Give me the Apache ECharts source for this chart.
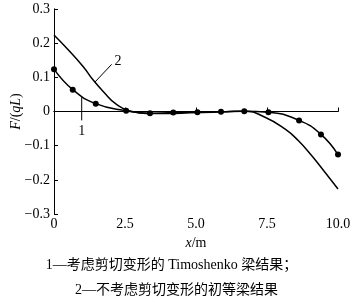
<!DOCTYPE html>
<html><head><meta charset="utf-8">
<script src="https://cdn.jsdelivr.net/npm/echarts@6/dist/echarts.min.js"></script>
<style>html,body{margin:0;padding:0;background:#fff}#c{width:359px;height:301px}</style>
</head><body><div id="c"></div>
<script>
// Curve 1: Timoshenko beam (with shear deformation), marked points
const timoX = [0, 0.66, 1.47, 2.54, 3.38, 4.2, 5.05, 5.88, 6.7, 7.55, 8.63, 9.4, 10];
const timoY = [0.124, 0.064, 0.023, 0.002, -0.005, -0.003, -0.002, -0.001, 0.001, -0.002, -0.026, -0.067, -0.126];
// Curve 2: elementary beam (no shear deformation)
const eulerX = [0, 0.45, 1.03, 1.38, 1.74, 2.2, 2.79, 3.26, 4.0, 4.8, 5.6, 6.2, 6.73, 7.43, 8.13, 8.6, 9.07, 9.54, 10];
const eulerY = [0.224, 0.185, 0.131, 0.092, 0.058, 0.021, -0.001, -0.006, -0.006, -0.004, -0.002, 0.0, 0.001, -0.017, -0.051, -0.085, -0.129, -0.178, -0.227];
const xTickValues = [0, 2.5, 5.0, 7.5, 10.0];
const yTickValues = [-0.3, -0.2, -0.1, 0, 0.1, 0.2, 0.3];
const captionLines = ['1\u2014考虑剪切变形的 Timoshenko 梁结果；', '2\u2014不考虑剪切变形的初等梁结果'];

const FONT = "'Liberation Serif','Times New Roman','Noto Sans CJK SC',serif";
const chart = echarts.init(document.getElementById('c'), null, {renderer: 'canvas'});
const zip = (xs, ys) => xs.map((x, i) => [x, ys[i]]);
const axisLine = {show: true, lineStyle: {color: '#000', width: 1}};
chart.setOption({
  animation: false,
  backgroundColor: '#fff',
  grid: {left: 54, right: 21, top: 9, bottom: 87, containLabel: false, outerBoundsMode: 'none'},
  xAxis: [{
    type: 'value', min: 0, max: 10, interval: 2.5,
    axisLine: axisLine, splitLine: {show: false},
    axisTick: {show: true, inside: true, length: 4, lineStyle: {color: '#000'}},
    axisLabel: {color: '#000', fontFamily: FONT, fontSize: 14, margin: 3,
      formatter: v => v === 0 ? '0' : v.toFixed(1)},
    name: '{i|x}/m', nameLocation: 'middle', nameGap: 22, nameMoveOverlap: false,
    nameTextStyle: {color: '#000', fontFamily: FONT, fontSize: 14,
      rich: {i: {fontStyle: 'italic', fontFamily: FONT, fontSize: 14, color: '#000'}}}
  }, {
    type: 'value', position: 'top', min: 0, max: 10, interval: 2.5,
    axisLine: axisLine, axisTick: {show: false}, axisLabel: {show: false}, splitLine: {show: false}
  }],
  yAxis: [{
    type: 'value', min: -0.3, max: 0.3, interval: 0.1,
    axisLine: axisLine, splitLine: {show: false},
    axisTick: {show: true, inside: true, length: 4, lineStyle: {color: '#000'}},
    axisLabel: {color: '#000', fontFamily: FONT, fontSize: 14, margin: 4,
      formatter: v => { const r = Math.round(v * 10) / 10; return r === 0 ? '0' : (r < 0 ? '\u2212' + Math.abs(r).toFixed(1) : r.toFixed(1)); }},
    name: '{i|F}/({i|qL})', nameLocation: 'middle', nameGap: 31, nameRotate: 90, nameMoveOverlap: false,
    nameTextStyle: {color: '#000', fontFamily: FONT, fontSize: 14,
      rich: {i: {fontStyle: 'italic', fontFamily: FONT, fontSize: 14, color: '#000'}}}
  }, {
    type: 'value', position: 'right', min: -0.3, max: 0.3, interval: 0.1,
    axisLine: axisLine, axisTick: {show: false}, axisLabel: {show: false}, splitLine: {show: false}
  }],
  series: [{
    type: 'line', data: zip(timoX, timoY), smooth: 0.5,
    symbol: 'circle', symbolSize: 6, showSymbol: true,
    itemStyle: {color: '#000'}, lineStyle: {color: '#000', width: 1.5}
  }, {
    type: 'line', data: zip(eulerX, eulerY), smooth: 0.5,
    showSymbol: false, lineStyle: {color: '#000', width: 1.5}
  }]
});

function px(p) { return chart.convertToPixel({gridIndex: 0}, p); }
const a2 = px([2.03, 0.138]), b2 = px([1.44, 0.086]), t2 = px([2.25, 0.146]);
const a1 = px([0.975, 0.042]), b1 = px([0.975, -0.026]), t1 = px([0.975, -0.058]);
chart.setOption({
  graphic: [
    {type: 'line', shape: {x1: a2[0], y1: a2[1], x2: b2[0], y2: b2[1]}, style: {stroke: '#000', lineWidth: 1}},
    {type: 'text', x: t2[0], y: t2[1], style: {text: '2', font: '14px ' + FONT, fill: '#000', textAlign: 'center', textVerticalAlign: 'middle'}},
    {type: 'line', shape: {x1: a1[0], y1: a1[1], x2: b1[0], y2: b1[1]}, style: {stroke: '#000', lineWidth: 1}},
    {type: 'text', x: t1[0], y: t1[1], style: {text: '1', font: '14px ' + FONT, fill: '#000', textAlign: 'center', textVerticalAlign: 'middle'}},
    {type: 'text', x: 171.5, y: 265, style: {text: captionLines[0], font: '14px ' + FONT, fill: '#000', textAlign: 'center', textVerticalAlign: 'middle'}},
    {type: 'text', x: 176.5, y: 290, style: {text: captionLines[1], font: '14px ' + FONT, fill: '#000', textAlign: 'center', textVerticalAlign: 'middle'}}
  ]
});
</script></body></html>
